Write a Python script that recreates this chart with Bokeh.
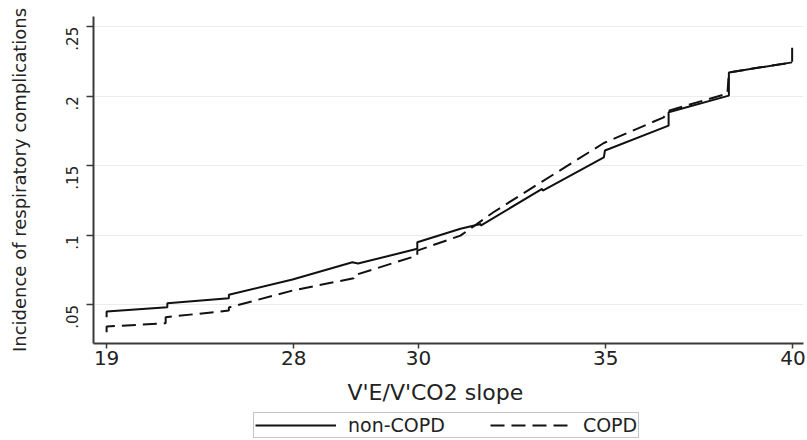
import math
import numpy as np
from bokeh.plotting import figure
from bokeh.layouts import column
from bokeh.models import Range1d, FixedTicker, Legend, LegendItem, Title
from bokeh.embed import file_html
from bokeh.resources import INLINE

# ---- data ----
tick_values = [19, 28, 30, 35, 40]
tick_labels = ["19", "28", "30", "35", "40"]
# the reference's x axis is not linear: equal steps are drawn between these ticks
tick_slots = [0, 3, 5, 8, 11]

y_ticks = [0.05, 0.10, 0.15, 0.20, 0.25]
y_tick_labels = [".05", ".1", ".15", ".2", ".25"]

x_title = "V'E/V'CO2 slope"
y_title = "Incidence of respiratory complications"
series_names = ["non-COPD", "COPD"]

noncopd_slope = [19.0, 19.0, 21.92, 21.92, 24.88, 24.88, 27.94, 28.94, 29.03, 29.98, 29.98,
                 31.12, 31.66, 31.66, 33.30, 33.32, 34.95, 34.98, 36.68, 36.68, 38.29, 38.29, 39.98]
noncopd_inc = [0.0411, 0.0452, 0.0483, 0.0512, 0.0547, 0.0572, 0.0682, 0.0806, 0.0797, 0.0903, 0.0950,
               0.1047, 0.1082, 0.1070, 0.1334, 0.1322, 0.1561, 0.1610, 0.1789, 0.1885, 0.2005, 0.2172, 0.2244]

copd_slope = [19.0, 19.0, 21.84, 21.84, 24.88, 24.88, 27.94, 28.96, 28.96, 29.98, 29.98,
              31.12, 32.0, 33.30, 34.95, 36.55, 36.68, 38.25, 38.29, 39.98, 39.98]
copd_inc = [0.0303, 0.0344, 0.0368, 0.0411, 0.0459, 0.0481, 0.0603, 0.0691, 0.0711, 0.0855, 0.0890,
            0.0998, 0.1166, 0.1387, 0.1664, 0.1849, 0.1897, 0.2019, 0.2172, 0.2244, 0.2352]


def to_axis(v):
    return np.interp(v, tick_values, tick_slots)


FONT = "DejaVu Sans"
INK = "#222222"
AXIS = "#3a3a3a"
DASH = "14 7"
LINE = dict(line_color="#111111", line_width=2)

MAIN_H = 377
p = figure(width=807, height=MAIN_H, output_backend="svg", toolbar_location=None,
           x_range=Range1d(-0.21, 11.17), y_range=Range1d(0.0222, 0.2574),
           min_border_left=93, min_border_right=4, min_border_top=16, min_border_bottom=MAIN_H - 343)
p.outline_line_color = None
p.background_fill_color = "white"
p.border_fill_color = "white"

p.line(to_axis(noncopd_slope), noncopd_inc, **LINE)
p.line(to_axis(copd_slope), copd_inc, line_dash=DASH, **LINE)

# x axis (its title is drawn in the strip below)
xa = p.xaxis[0]
xa.ticker = FixedTicker(ticks=[float(t) for t in tick_slots])
xa.major_label_overrides = {float(s): l for s, l in zip(tick_slots, tick_labels)}
xa.major_label_text_font = FONT
xa.major_label_text_font_size = "20px"
xa.major_label_text_color = INK
xa.major_label_standoff = 2
xa.major_tick_out = 5
xa.major_tick_in = 0
xa.minor_tick_line_color = None
xa.axis_line_color = AXIS
xa.axis_line_width = 2
xa.major_tick_line_color = AXIS
xa.major_tick_line_width = 1.5

# y axis
ya = p.yaxis[0]
ya.ticker = FixedTicker(ticks=y_ticks)
ya.major_label_overrides = {t: l for t, l in zip(y_ticks, y_tick_labels)}
ya.major_label_orientation = math.pi / 2
ya.axis_label = y_title
ya.axis_label_text_font = FONT
ya.axis_label_text_font_size = "18px"
ya.axis_label_text_font_style = "normal"
ya.axis_label_text_color = INK
ya.axis_label_standoff = 28
ya.major_label_text_font = FONT
ya.major_label_text_font_size = "15px"
ya.major_label_text_color = INK
ya.major_label_standoff = 14
ya.major_tick_out = 7
ya.major_tick_in = 0
ya.minor_tick_line_color = None
ya.axis_line_color = AXIS
ya.axis_line_width = 2
ya.major_tick_line_color = AXIS
ya.major_tick_line_width = 1.5

p.xgrid.grid_line_color = None
p.ygrid.grid_line_color = "#ececec"
p.ygrid.grid_line_width = 1

# strip under the plot: x-axis title + legend (frame aligned with the main frame by the column)
lg = figure(width=807, height=440 - MAIN_H, output_backend="svg", toolbar_location=None,
            x_range=Range1d(-0.21, 11.17), y_range=Range1d(5, 6),
            x_axis_location=None, y_axis_location=None,
            min_border_left=93, min_border_right=4, min_border_top=1, min_border_bottom=0)
lg.outline_line_color = None
lg.xgrid.grid_line_color = None
lg.ygrid.grid_line_color = None
lg.add_layout(Title(text=x_title, align="left", offset=254, standoff=0,
                    text_font=FONT, text_font_size="22px", text_font_style="normal",
                    text_color=INK), "above")
# same series, drawn outside this strip's visible range: only their legend keys show
k1 = lg.line(to_axis(noncopd_slope), noncopd_inc, **LINE)
k2 = lg.line(to_axis(copd_slope), copd_inc, line_dash=DASH, **LINE)
legend = Legend(items=[LegendItem(label=series_names[0], renderers=[k1]),
                       LegendItem(label=series_names[1], renderers=[k2])],
                orientation="horizontal", location=(160, 2),
                glyph_width=81, glyph_height=16, label_height=16, label_standoff=12, spacing=45,
                padding=1, margin=0,
                border_line_color="#8a8a8a", border_line_width=1.5,
                label_text_font=FONT, label_text_font_size="19px", label_text_color=INK,
                background_fill_color="white")
lg.add_layout(legend, "center")

open("out.html", "w").write(file_html(column(p, lg, spacing=0), INLINE))
